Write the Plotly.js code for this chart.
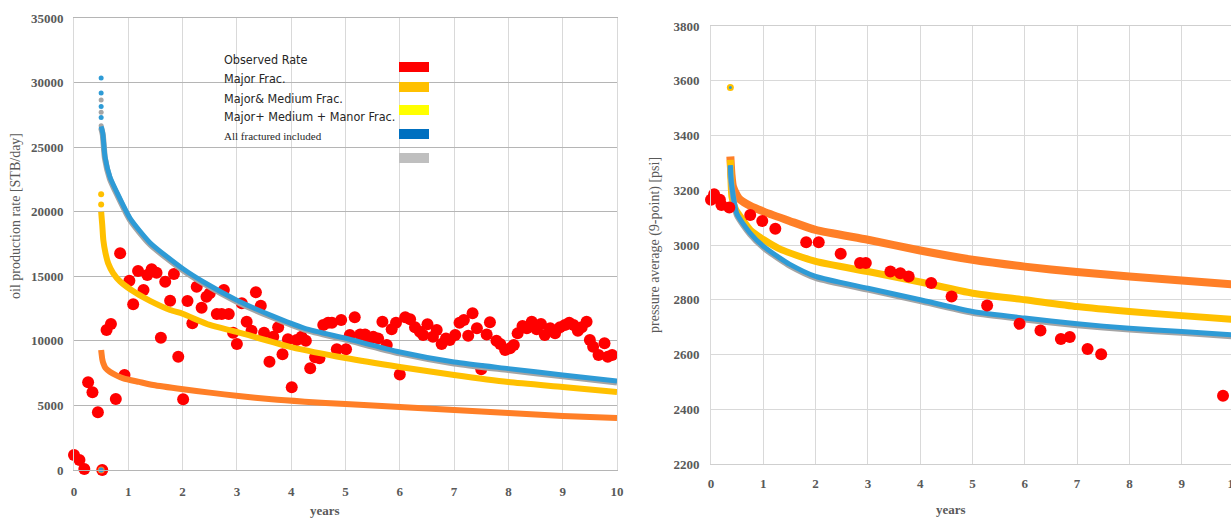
<!DOCTYPE html>
<html>
<head>
<meta charset="utf-8">
<script src="https://cdn.plot.ly/plotly-3.0.1.min.js"></script>
<style>
html,body{margin:0;padding:0;background:#fff;overflow:hidden;}
#chart{width:1245px;height:520px;}
</style>
</head>
<body>
<div id="chart"></div>
<script>
// ---------------- DATA: left chart (oil production rate) ----------------
const obsRateT = [0,0.1,0.19,0.26,0.34,0.44,0.52,0.6,0.68,0.77,0.85,0.93,1.02,1.09,1.18,1.28,1.35,1.43,1.52,1.6,1.68,1.77,1.84,1.92,2.01,2.09,2.18,2.26,2.35,2.44,2.5,2.63,2.72,2.76,2.85,2.93,3.0,3.09,3.18,3.27,3.35,3.44,3.5,3.6,3.67,3.76,3.84,3.94,4.01,4.1,4.19,4.27,4.35,4.44,4.52,4.59,4.68,4.75,4.84,4.92,5.01,5.08,5.17,5.27,5.36,5.42,5.51,5.6,5.68,5.76,5.85,5.93,6.0,6.1,6.19,6.28,6.37,6.43,6.51,6.61,6.68,6.77,6.85,6.92,7.02,7.1,7.18,7.26,7.34,7.42,7.5,7.6,7.66,7.78,7.85,7.94,8.03,8.1,8.17,8.26,8.34,8.43,8.52,8.6,8.67,8.77,8.86,8.95,9.04,9.12,9.2,9.28,9.35,9.44,9.5,9.56,9.66,9.77,9.83,9.91];
const obsRateV = [1160,770,80,6790,6020,4470,0,10840,11300,5500,16780,7360,14660,12830,15410,13940,15100,15540,15280,10240,14580,13110,15180,8770,5470,13090,11360,14190,12570,13420,13680,12080,12080,13940,12080,10630,9760,12910,11480,10790,13760,12720,10630,8390,10320,11050,8960,10120,6400,10070,10320,10010,7870,8730,8650,11230,11410,11410,9350,11610,9350,10450,11820,10500,10500,9930,10320,10190,11480,9680,10890,11410,7400,11820,11670,11050,10710,10450,11280,10320,10840,9760,10190,10070,10450,11410,11610,10400,12130,10970,7800,10500,11440,10010,9760,9290,9420,9680,10580,11150,10970,11480,10890,11300,10450,10970,10580,11050,11230,11410,11230,10790,11050,11480,10070,9550,8900,9810,8770,8900];

const majorRateT = [0.5,0.52,0.54,0.58,0.66,0.78,0.91,1.2,1.46,2.01,2.5,3.03,3.64,4.25,5.0,6.0,7.0,8.0,9.0,10.0];
const majorRateV = [9290,8600,8260,7900,7610,7330,7100,6820,6580,6250,5990,5730,5470,5290,5110,4880,4650,4410,4180,4030];

const majMedRateT = [0.5,0.52,0.54,0.58,0.63,0.72,0.85,1.15,1.4,1.77,2.0,2.5,3.0,4.0,5.0,6.0,7.0,8.0,9.0,10.0];
const majMedRateV = [20000,19000,17810,16800,16000,15250,14600,13680,13100,12390,12100,11230,10690,9520,8670,7980,7360,6810,6430,6040];

const allFracRateT = [0.5,0.53,0.57,0.66,0.79,1.03,1.4,2.0,2.41,3.0,3.64,4.25,5.0,6.0,7.0,8.0,9.0,10.0];
const allFracRateV = [26600,26070,24260,22710,21500,19510,17600,15600,14500,13150,11950,10970,10200,9140,8360,7850,7360,6890];
const grayRateV    = [26500,25950,24120,22560,21350,19370,17470,15480,14380,13030,11840,10860,10090,9030,8250,7740,7250,6780];

// isolated early-time model points (t = 0.5 yr)
const allFracDotsT = [0.5,0.5,0.5,0.5,0.5];
const allFracDotsV = [30350,29200,28150,27300,0];
const grayDotsT = [0.5,0.5,0.5];
const grayDotsV = [28650,27700,26650];
const majMedDotsT = [0.5,0.5];
const majMedDotsV = [21350,20550];
const majorDotsT = [0.5];
const majorDotsV = [0];

// ---------------- DATA: right chart (average pressure) ----------------
const obsPresT = [0,0.06,0.17,0.2,0.35,0.75,0.98,1.23,1.82,2.06,2.48,2.85,2.96,3.43,3.62,3.78,4.21,4.6,5.28,5.9,6.3,6.69,6.86,7.2,7.46,9.79];
const obsPresV = [3165,3185,3165,3146,3137,3110,3088,3059,3010,3010,2968,2934,2934,2903,2897,2885,2861,2812,2779,2712,2688,2657,2664,2620,2601,2449];

const majorPresT = [0.37,0.39,0.42,0.5,0.56,0.75,1.01,1.5,2.0,3.0,4.0,5.0,6.0,7.0,8.0,9.0,10.0];
const majorPresV = [3323,3260,3213,3180,3165,3143,3122,3088,3055,3019,2980,2946,2921,2901,2885,2870,2856];

const majMedPresT = [0.37,0.38,0.4,0.47,0.56,0.75,1.01,1.32,2.0,3.0,4.0,5.0,6.0,7.0,8.0,9.0,10.0];
const majMedPresV = [3311,3250,3177,3130,3104,3055,3019,2985,2940,2903,2865,2824,2800,2775,2757,2742,2728];

const allFracPresT = [0.37,0.38,0.4,0.49,0.75,1.01,1.32,1.5,2.0,3.0,4.0,5.0,6.0,7.0,8.0,9.0,10.0];
const allFracPresV = [3292,3250,3213,3116,3043,2994,2952,2930,2885,2842,2800,2757,2733,2712,2696,2684,2671];
const grayPresV    = [3288,3246,3208,3111,3038,2989,2947,2925,2880,2837,2795,2752,2728,2707,2691,2679,2666];

const presSpikeT = [0.37];
const presSpikeV = [3575];

// ---------------- legend & tick labels ----------------
const legendLabels = ["Observed Rate","Major Frac.","Major& Medium Frac.","Major+ Medium + Manor Frac.","All fractured included"];
const legendColors = ["#ff0000","#ffc000","#ffff00","#0070c0","#bfbfbf"];
const rateTickVals = [0,5000,10000,15000,20000,25000,30000,35000];
const presTickVals = [2200,2400,2600,2800,3000,3200,3400,3600,3800];
const yearTickVals = [0,1,2,3,4,5,6,7,8,9,10];

// ---------------- styling ----------------
const W = 1245, H = 520;
const px = x => x / W;
const py = y => 1 - y / H;
const RED = "#ff0000", ORANGE = "#ff7f27", GOLD = "#ffc000", BLUE = "#2e9bd6", GRAY = "#a5a5a5";
const tickFont = {family:"Liberation Serif, Times New Roman, serif", size:13, color:"#595959", weight:"bold"};

function line(x, y, color, width, xa, ya) {
  return {x:x, y:y, xaxis:xa, yaxis:ya, type:"scatter", mode:"lines",
          line:{color:color, width:width, shape:"spline", smoothing:0.6}, cliponaxis:false, hoverinfo:"skip"};
}
function dots(x, y, color, size, xa, ya) {
  return {x:x, y:y, xaxis:xa, yaxis:ya, type:"scatter", mode:"markers",
          marker:{color:color, size:size, line:{width:0}}, cliponaxis:false, hoverinfo:"skip"};
}

const traces = [
  // left chart
  dots(obsRateT, obsRateV, RED, 12, "x", "y"),
  line(majorRateT, majorRateV, ORANGE, 6, "x", "y"),
  dots(majorDotsT, majorDotsV, ORANGE, 7, "x", "y"),
  line(majMedRateT, majMedRateV, GOLD, 6, "x", "y"),
  dots(majMedDotsT, majMedDotsV, GOLD, 6, "x", "y"),
  line(allFracRateT, grayRateV, GRAY, 6, "x", "y"),
  dots(grayDotsT, grayDotsV, GRAY, 5, "x", "y"),
  line(allFracRateT, allFracRateV, BLUE, 5, "x", "y"),
  dots(allFracDotsT, allFracDotsV, BLUE, 5, "x", "y"),
  // right chart
  line(majorPresT, majorPresV, ORANGE, 8, "x2", "y2"),
  line(majMedPresT, majMedPresV, GOLD, 7, "x2", "y2"),
  line(allFracPresT, grayPresV, GRAY, 6, "x2", "y2"),
  line(allFracPresT, allFracPresV, BLUE, 5, "x2", "y2"),
  dots(presSpikeT, presSpikeV, GOLD, 7, "x2", "y2"),
  dots(presSpikeT, presSpikeV, BLUE, 3, "x2", "y2"),
  dots(obsPresT, obsPresV, RED, 12, "x2", "y2")
];

const annotations = [
  {text:"oil production rate [STB/day]", x:px(15), y:py(216), textangle:-90},
  {text:"years", x:px(325), y:py(510), font:{family:"Liberation Serif, serif", size:13, color:"#595959", weight:"bold"}},
  {text:"pressure average (9-point) [psi]", x:px(655), y:py(245), textangle:-90},
  {text:"years", x:px(951), y:py(509), font:{family:"Liberation Serif, serif", size:13, color:"#595959", weight:"bold"}}
].map(a => Object.assign({xref:"paper", yref:"paper", showarrow:false, xanchor:"center", yanchor:"middle",
  font:{family:"Liberation Serif, Times New Roman, serif", size:14, color:"#595959"}}, a));

const legendY = [59, 78, 98, 117, 136];
legendLabels.forEach((lab, i) => {
  const last = i === legendLabels.length - 1;
  annotations.push({text:lab, xref:"paper", yref:"paper", x:px(222), y:py(legendY[i]), xanchor:"left", yanchor:"middle",
    showarrow:false,
    font: last ? {family:"Liberation Serif, serif", size:11, color:"#262626"}
               : {family:"Liberation Sans Narrow, DejaVu Sans Condensed, Arial Narrow, sans-serif", size:12.5, color:"#262626"}});
});
const swatchY = [67, 87, 110, 134, 158];
const shapes = legendColors.map((c, i) => ({type:"rect", xref:"paper", yref:"paper",
  x0:px(399), x1:px(429), y0:py(swatchY[i]-5), y1:py(swatchY[i]+5), fillcolor:c, line:{width:0}}));

const layout = {
  width:W, height:H, margin:{l:0, r:0, t:0, b:0}, showlegend:false,
  paper_bgcolor:"#fff", plot_bgcolor:"#fff",
  xaxis:{domain:[px(74), px(617)], range:[0,10], tickvals:yearTickVals, ticktext:yearTickVals.map(String),
         showgrid:true, gridcolor:"#d9d9d9", gridwidth:1, zeroline:false,
         showline:true, mirror:true, linecolor:"#b5b5b5", linewidth:1,
         ticks:"", tickfont:tickFont, ticklabelstandoff:9, anchor:"y", fixedrange:true},
  yaxis:{domain:[py(470), py(18)], range:[0,35000], tickvals:rateTickVals, ticktext:rateTickVals.map(String),
         showgrid:true, gridcolor:"#b5b5b5", gridwidth:1, zeroline:false,
         showline:true, mirror:true, linecolor:"#d9d9d9", linewidth:1,
         ticks:"", tickfont:tickFont, ticklabelstandoff:7, anchor:"x", fixedrange:true},
  xaxis2:{domain:[px(711), px(1234)], range:[0,10], tickvals:yearTickVals, ticktext:yearTickVals.map(String),
         showgrid:true, gridcolor:"#d9d9d9", gridwidth:1, zeroline:false,
         showline:true, mirror:true, linecolor:"#cfcfcf", linewidth:1,
         ticks:"", tickfont:tickFont, ticklabelstandoff:7, anchor:"y2", fixedrange:true},
  yaxis2:{domain:[py(464), py(26)], range:[2200,3800], tickvals:presTickVals, ticktext:presTickVals.map(String),
         showgrid:true, gridcolor:"#d9d9d9", gridwidth:1, zeroline:false,
         showline:true, mirror:true, linecolor:"#d9d9d9", linewidth:1,
         ticks:"", tickfont:tickFont, ticklabelstandoff:8, anchor:"x2", fixedrange:true},
  annotations:annotations,
  shapes:shapes
};

Plotly.newPlot("chart", traces, layout, {displayModeBar:false, staticPlot:true});
</script>
</body>
</html>
